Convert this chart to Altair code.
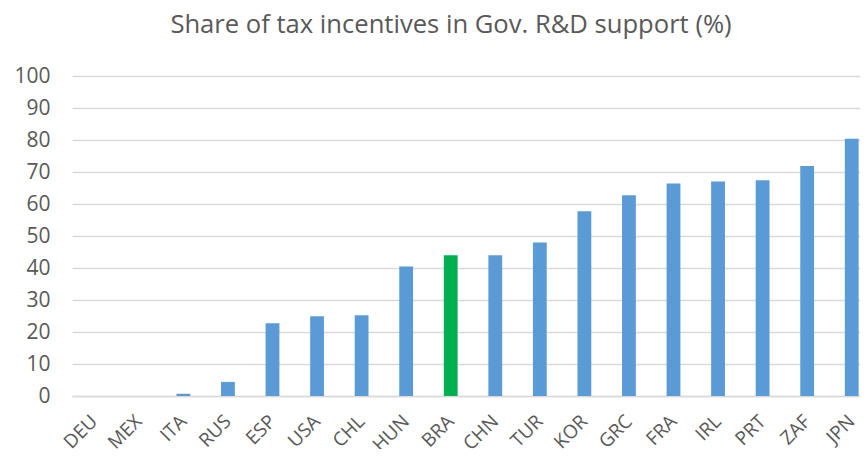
import altair as alt
import pandas as pd

countries = ["DEU", "MEX", "ITA", "RUS", "ESP", "USA", "CHL", "HUN", "BRA",
             "CHN", "TUR", "KOR", "GRC", "FRA", "IRL", "PRT", "ZAF", "JPN"]
values = [0.0, 0.0, 0.7, 4.4, 22.7, 24.9, 25.2, 40.5, 44.0,
          44.0, 48.0, 57.7, 62.7, 66.4, 67.0, 67.4, 71.9, 80.4]
highlight = ["BRA"]

df = pd.DataFrame({"country": countries, "value": values})
df["group"] = ["hl" if c in highlight else "base" for c in countries]

FONT = "Open Sans"
GREY = "#595959"

chart = alt.Chart(df).mark_bar().encode(
    x=alt.X("country:N", sort=countries,
            scale=alt.Scale(range=[0, 802], paddingInner=0.69, paddingOuter=0.345),
            axis=alt.Axis(title=None, labelAngle=-45, labelAlign="right",
                          labelBaseline="middle", labelPadding=22, ticks=False,
                          domainColor="#D9D9D9", domainWidth=1.5,
                          labelFont=FONT, labelFontSize=19, labelColor=GREY)),
    y=alt.Y("value:Q", scale=alt.Scale(domain=[0, 100], nice=False),
            axis=alt.Axis(title=None, values=list(range(0, 101, 10)), ticks=False,
                          domain=False, gridColor="#D9D9D9", gridWidth=1.5,
                          labelPadding=22, labelFont=FONT, labelFontSize=21,
                          labelColor=GREY)),
    color=alt.Color("group:N", scale=alt.Scale(domain=["base", "hl"],
                                               range=["#5B9BD5", "#00B050"]),
                    legend=None),
).properties(
    width=788, height=320,
    title=alt.TitleParams("Share of tax incentives in Gov. R&D support (%)",
                          font=FONT, fontSize=25.6, fontWeight="normal",
                          color=GREY, anchor="middle", offset=26, dx=-15),
    autosize=alt.AutoSizeParams(type="none"),
    padding={"left": 64, "top": 68, "right": 0, "bottom": 53},
).configure_view(stroke=None)

chart.save("out.html", embed_options={"renderer": "svg", "actions": False})
